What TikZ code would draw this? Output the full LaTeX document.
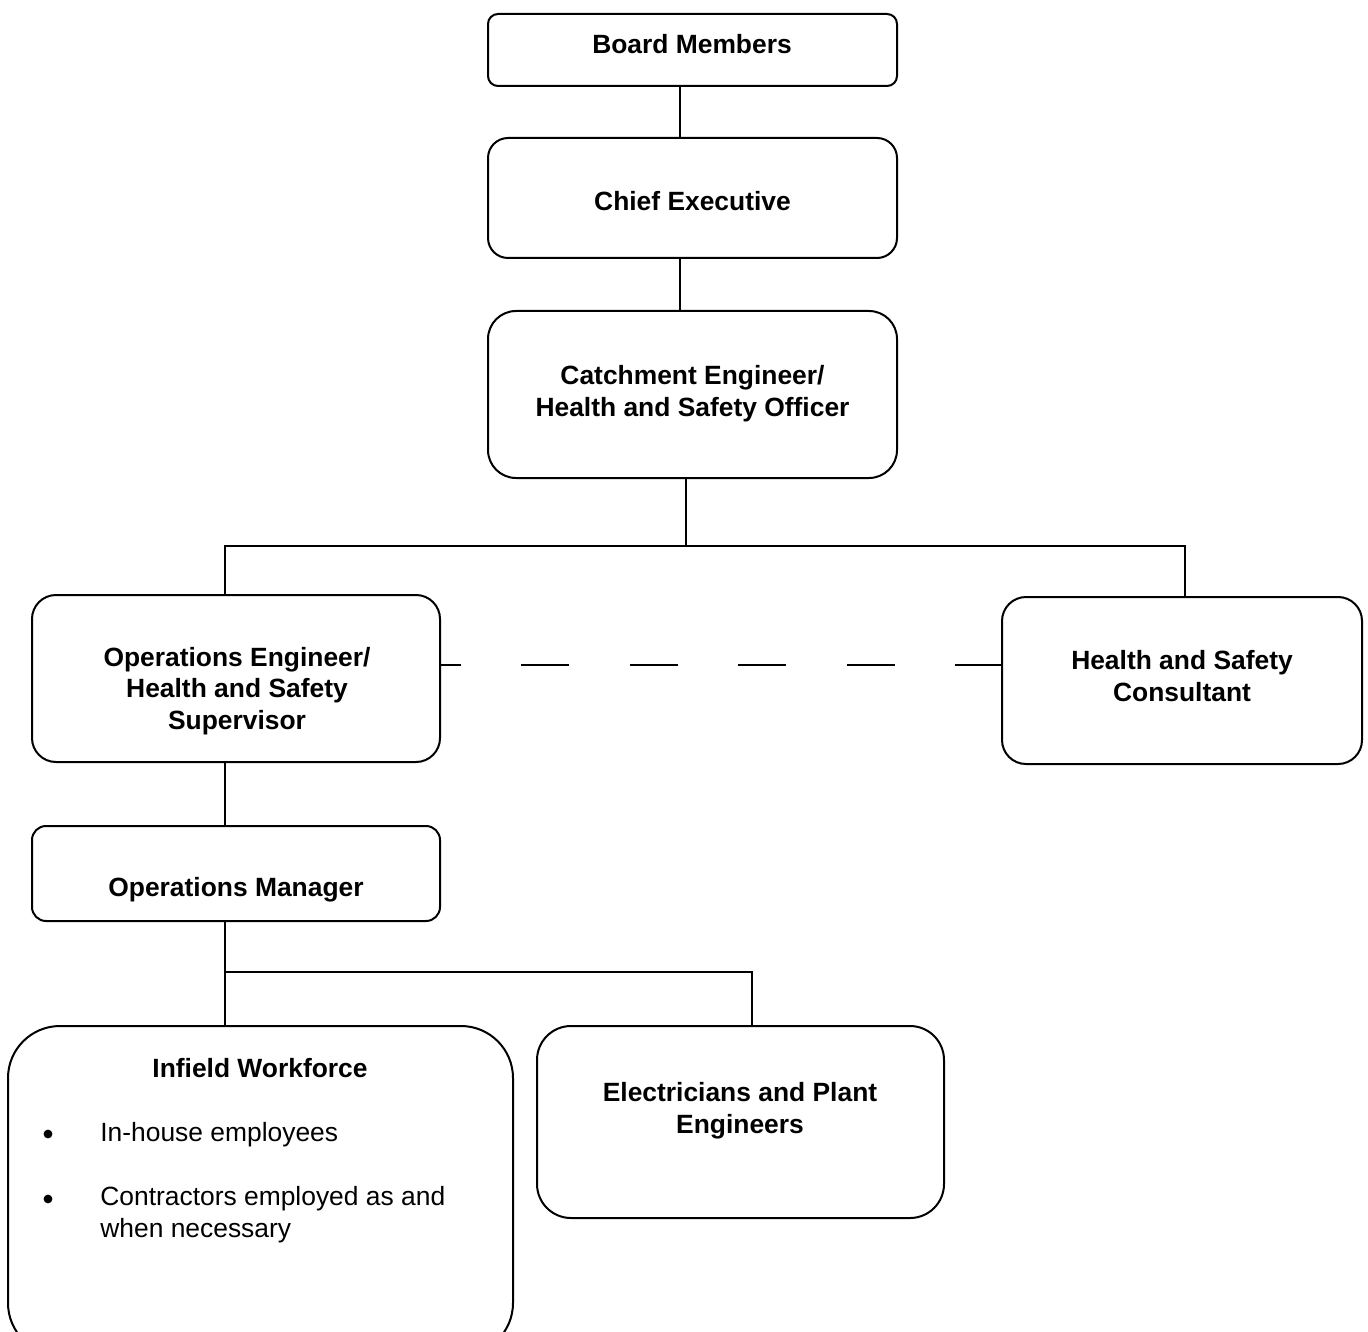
\documentclass[tikz,border=0pt]{standalone}
\usepackage{fontspec}
\setmainfont{Liberation Sans}
\usetikzlibrary{positioning}

\tikzset{
  box/.style={draw,line width=1pt,inner sep=0pt,rounded corners=#1},
  box/.default=10pt,
  lbl/.style={font=\bfseries\fontsize{13.2}{15.7}\selectfont,align=center,anchor=base,inner sep=0pt},
  item/.style={font=\fontsize{13.2}{15.7}\selectfont,align=left,anchor=base west,inner sep=0pt},
  bul/.style={circle,fill,inner sep=0pt,minimum size=4.4pt},
  link/.style={line width=1pt},
}

\begin{document}
\begin{tikzpicture}[x=0.5pt,y=-0.5pt]
  \useasboundingbox (0,0) rectangle (1368,1331);

  % boxes
  \node[box=5pt,minimum width=204.5pt,minimum height=36pt] (board) at (692.5,50) {};
  \node[box=10pt,minimum width=204.5pt,minimum height=60pt] (chief) at (692.5,198) {};
  \node[box=14pt,minimum width=204.5pt,minimum height=83.5pt] (catch) at (692.5,394.5) {};
  \node[box=12pt,minimum width=204pt,minimum height=83.5pt] (opseng) at (236,678.5) {};
  \node[box=12pt,minimum width=180pt,minimum height=83.5pt] (hsc) at (1182,680.5) {};
  \node[box=7pt,minimum width=204pt,minimum height=47.5pt] (opsmgr) at (236,873.5) {};
  \node[box=26pt,minimum width=252.5pt,minimum height=164.5pt] (infield) at (260.5,1190.5) {};
  \node[box=17pt,minimum width=203.5pt,minimum height=96pt] (elec) at (740.5,1122) {};

  % texts (multi-line ones sit on their last baseline)
  \node[lbl] (board-t) at (692,54) {Board Members};
  \node[lbl] (chief-t) at (692.5,211) {Chief Executive};
  \node[lbl] (catch-t) at (692.5,416) {Catchment Engineer/\\Health and Safety Officer};
  \node[lbl] (opseng-t) at (237,729) {Operations Engineer/\\Health and Safety\\Supervisor};
  \node[lbl] (hsc-t) at (1182,701) {Health and Safety\\Consultant};
  \node[lbl] (opsmgr-t) at (236,896) {Operations Manager};
  \node[lbl] (infield-t) at (260,1077) {Infield Workforce};
  \node[lbl] (elec-t) at (740,1133) {Electricians and Plant\\Engineers};

  \node[bul] (bul1) at (48,1134) {};
  \node[item] (item1) at (100,1141) {In-house employees};
  \node[bul] (bul2) at (48,1199) {};
  \node[item] (item2) at (100,1237) {Contractors employed as and\\when necessary};

  % connectors
  \coordinate (spine) at (680,0);
  \coordinate (bus) at (686,546);
  \coordinate (busL) at (225,546);
  \coordinate (busR) at (1185,546);
  \coordinate (bus2L) at (225,972);
  \coordinate (bus2R) at (752,972);
  \coordinate (dash) at (0,665);

  \draw[link] (board.south -| spine) -- (chief.north -| spine);
  \draw[link] (chief.south -| spine) -- (catch.north -| spine);
  \draw[link] (catch.south -| bus) -- (bus);
  \draw[link] (opseng.north -| busL) -- (busL) -- (busR) -- (hsc.north -| busR);
  \draw[link] (opseng.south -| busL) -- (opsmgr.north -| busL);
  \draw[link] (opsmgr.south -| bus2L) -- (infield.north -| bus2L);
  \draw[link] (bus2L) -- (bus2R) -- (elec.north -| bus2R);
  \draw[link,dash pattern=on 24pt off 30.2pt,dash phase=14pt]
    (opseng.east |- dash) -- (hsc.west |- dash);
\end{tikzpicture}
\end{document}
